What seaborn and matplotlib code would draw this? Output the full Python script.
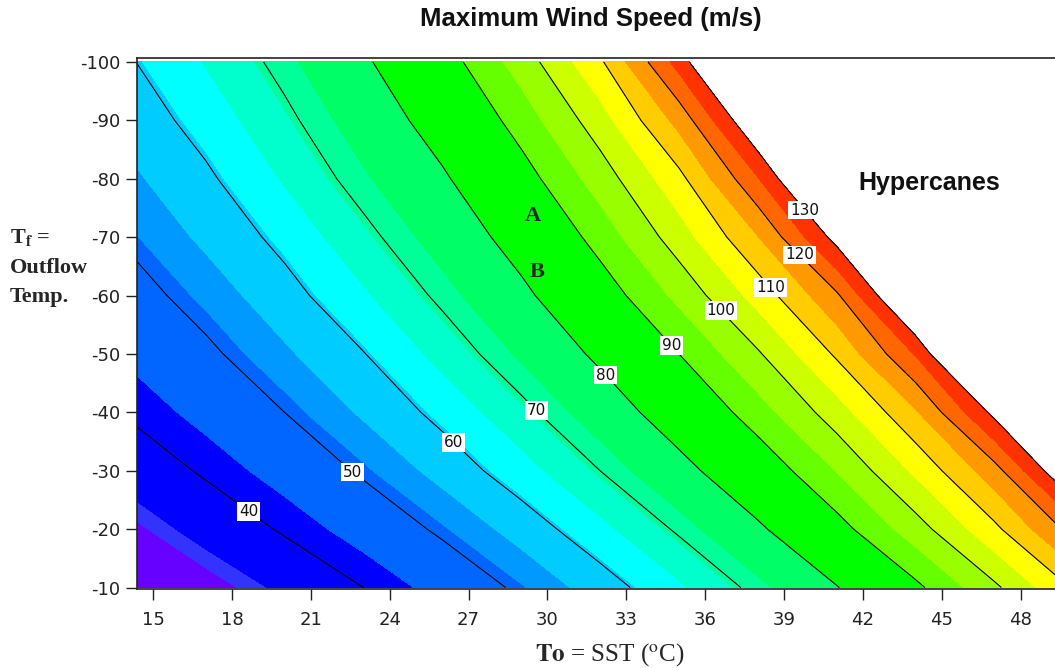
import numpy as np
import pandas as pd
import matplotlib
matplotlib.use("Agg")
import matplotlib.pyplot as plt
import seaborn as sns
from matplotlib.transforms import Bbox

# grid of the table: sea surface temperature (deg C) and outflow temperature (deg C)
sst = [14, 17, 20, 23, 26, 29, 32, 35, 38, 41, 44, 47, 50]
outflow = [-10, -20, -30, -40, -50, -60, -70, -80, -90, -100]

# maximum wind speed (m/s), one row per outflow temperature
# (values above 130 fall in the blank "hypercane" area)
vmax_m10 = [26.0, 30.5, 35.0, 40.0, 45.5, 51.1, 57.4, 64.2, 71.6, 79.7, 88.8, 99.0, 110.5]
vmax_m20 = [31.0, 35.8, 40.7, 45.8, 51.0, 57.0, 63.6, 70.8, 78.9, 87.9, 97.7, 108.8, 122.0]
vmax_m30 = [36.0, 40.8, 45.7, 50.8, 56.7, 63.0, 70.0, 77.7, 86.0, 95.2, 106.0, 118.0, 137.0]
vmax_m40 = [40.5, 45.2, 50.0, 55.7, 61.6, 68.4, 75.9, 84.0, 92.8, 102.7, 114.4, 131.5, 150.0]
vmax_m50 = [44.3, 48.8, 54.2, 59.8, 66.6, 73.8, 81.4, 90.0, 99.4, 110.8, 125.4, 150.0, 170.0]
vmax_m60 = [47.5, 52.4, 58.0, 64.3, 71.2, 78.5, 86.9, 96.3, 107.0, 119.2, 140.0, 160.0, 180.0]
vmax_m70 = [50.7, 56.0, 61.6, 68.4, 75.3, 82.9, 92.1, 102.6, 114.8, 132.0, 150.0, 170.0, 190.0]
vmax_m80 = [53.8, 59.0, 65.5, 72.3, 79.1, 87.6, 97.3, 108.5, 124.7, 145.0, 165.0, 185.0, 205.0]
vmax_m90 = [56.6, 62.2, 68.7, 75.6, 83.2, 92.3, 102.8, 116.7, 136.0, 155.0, 175.0, 195.0, 215.0]
vmax_m100 = [59.3, 65.3, 71.7, 79.0, 87.4, 97.2, 109.2, 127.0, 150.0, 170.0, 190.0, 210.0, 230.0]

# contour lines and their labels
line_levels = [40, 50, 60, 70, 80, 90, 100, 110, 120, 130]
label_spots = [(18.6, -22.8), (22.6, -29.8), (26.4, -34.7), (29.6, -40.4), (32.2, -46.3),
               (34.7, -51.3), (36.6, -57.4), (38.5, -61.4), (39.6, -67.0), (39.75, -74.5)]

# colour bands of the fill
fill_edges = [20, 32.3, 34, 43.5, 51.5, 55, 60.5, 65, 69.3, 73, 80, 90, 95, 100,
              105, 110, 115, 120, 125, 130]
fill_colors = ["#6600FF", "#3333FF", "#0000FF", "#0066FF", "#0099FF", "#00CCFF", "#00FFFF",
               "#00FFCC", "#00FF99", "#00FF66", "#00FF00", "#66FF00", "#99FF00", "#CCFF00",
               "#FFFF00", "#FFCC00", "#FF9900", "#FF6600", "#FF3300"]

x_ticks = [15, 18, 21, 24, 27, 30, 33, 36, 39, 42, 45, 48]
y_ticks = [-100, -90, -80, -70, -60, -50, -40, -30, -20, -10]

tabela = pd.DataFrame([vmax_m10, vmax_m20, vmax_m30, vmax_m40, vmax_m50,
                       vmax_m60, vmax_m70, vmax_m80, vmax_m90, vmax_m100],
                      index=outflow, columns=sst)

sns.set_style("ticks")
plt.rcParams["font.family"] = ["DejaVu Sans"]
plt.rcParams["axes.unicode_minus"] = False
plt.rcParams["mathtext.fontset"] = "stix"

W, H = 1055, 668
fig = plt.figure(figsize=(W / 100, H / 100), dpi=100)
ax = fig.add_axes([137 / W, (H - 589) / H, 1 - 137 / W, (589 - 58.4) / H])

X, Y = np.meshgrid(tabela.columns.values, tabela.index.values)
Z = tabela.values

ax.contourf(X, Y, Z, levels=fill_edges, colors=fill_colors)
cs = ax.contour(X, Y, Z, levels=line_levels, colors="black", linewidths=0.8)

ax.set_xlim(14.39, 49.3)
ax.set_ylim(-9.75, -100.6)
ax.set_xticks(x_ticks)
ax.set_yticks(y_ticks)
ax.tick_params(axis="both", direction="out", length=8, width=1, colors="#222222",
               labelsize=13)
ax.tick_params(axis="x", pad=8)
ax.tick_params(axis="y", pad=4)
for lado in ["left", "bottom", "top"]:
    ax.spines[lado].set_color("#222222")
    ax.spines[lado].set_linewidth(1.2)
ax.spines["right"].set_visible(False)

rotulos = ax.clabel(cs, fmt="%d", manual=label_spots, inline=False, fontsize=11, colors="#111111")
for t in rotulos:
    t.set_rotation(0)
    t.set_bbox(dict(boxstyle="square,pad=0.12", facecolor="white", edgecolor="none"))

ax.text(29.45, -73.7, "A", family="Liberation Serif", weight="bold", fontsize=16,
        ha="center", va="center")
ax.text(29.6, -64.1, "B", family="Liberation Serif", weight="bold", fontsize=16,
        ha="center", va="center")
ax.text(44.5, -79.3, "Hypercanes", family="Liberation Sans", weight="bold", fontsize=18,
        ha="center", va="center", color="#111111")

fig.text(591 / W, 1 - 19 / H, "Maximum Wind Speed (m/s)", family="Liberation Sans",
         weight="bold", fontsize=18.5, ha="center", va="center", color="#111111")
fig.text(610 / W, 1 - 655 / H, r"$\mathbf{To}$ = SST ($^{\mathrm{o}}$C)",
         family="Liberation Serif", fontsize=18, ha="center", va="center")

# the y label sits left of the tick labels, which cut off its widest line
corte = Bbox([[0, 0], [88, H]])
for texto, ypix in [(r"T$_{\mathbf{f}}$ =", 238), ("Outflow", 268), ("Temp.", 297)]:
    t = fig.text(10 / W, 1 - ypix / H, texto, family="Liberation Serif", weight="bold",
                 fontsize=16, ha="left", va="center")
    t.set_clip_box(corte)
    t.set_clip_on(True)

plt.savefig("out.png", dpi=100)
plt.close()
